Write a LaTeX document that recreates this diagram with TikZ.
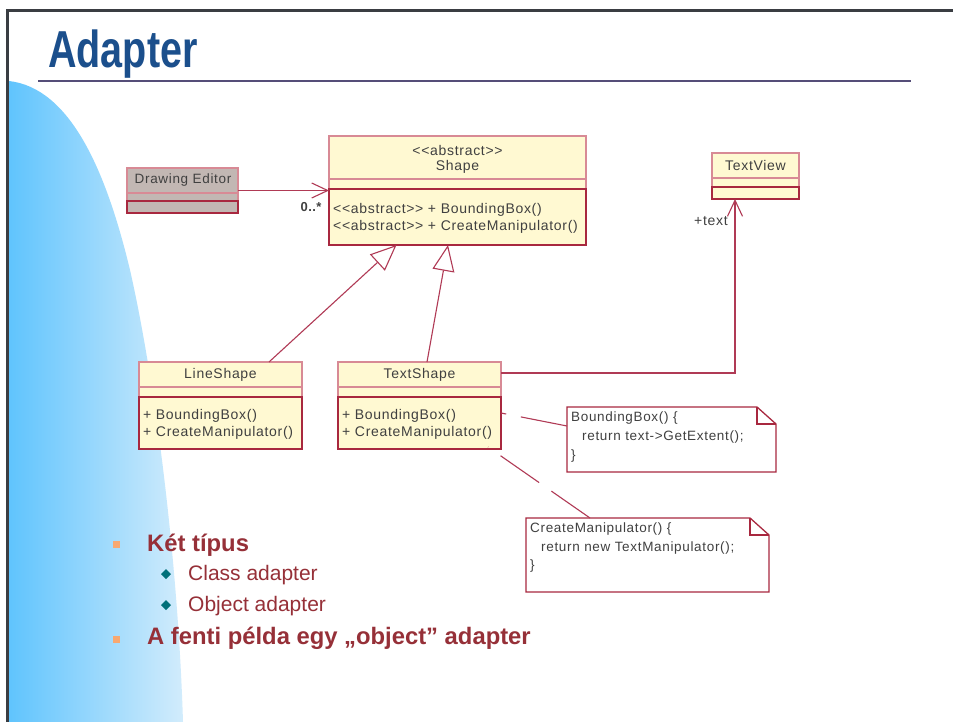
\documentclass[tikz,border=0pt]{standalone}
\usepackage{fontspec}
\setmainfont{Liberation Sans}
\newfontfamily\umlfont[LetterSpace=5]{Liberation Sans}
\newfontfamily\umlbold[LetterSpace=3]{Liberation Sans Bold}
\usetikzlibrary{calc,arrows.meta}

\definecolor{framegray}{HTML}{3A3D42}
\definecolor{titleblue}{HTML}{1B4F8C}
\definecolor{rulepurple}{HTML}{554E78}
\definecolor{skyA}{HTML}{60C4FD}
\definecolor{skyB}{HTML}{D2ECFC}
\definecolor{umlfill}{HTML}{FFF9D2}
\definecolor{editorfill}{HTML}{C2B7B3}
\definecolor{darkedge}{HTML}{A8283F}
\definecolor{lightedge}{HTML}{D88A95}
\definecolor{wire}{HTML}{B03A55}
\definecolor{umltext}{HTML}{404040}
\definecolor{bullettext}{HTML}{963038}
\definecolor{orangebullet}{HTML}{F8A870}
\definecolor{tealbullet}{HTML}{00707A}

\tikzset{
  umlbox/.style={rectangle, fill=umlfill, inner sep=0pt, outer sep=0pt, anchor=north west},
  hdr/.style={draw=lightedge, line width=1.2pt},
  body/.style={draw=darkedge, line width=1.5pt},
  umltxt/.style={text=umltext, inner sep=0pt, font=\umlfont\fontsize{14}{16}\selectfont},
  notetxt/.style={text=umltext, inner sep=0pt, anchor=west, font=\umlfont\fontsize{13.5}{15}\selectfont},
  notebox/.style={rectangle, inner sep=0pt, outer sep=0pt, anchor=north west},
  wireline/.style={draw=wire, line width=1.1pt},
  gen/.style={wireline, -{Triangle[length=26pt,width=22pt,fill=white,line width=1.1pt]}},
  assoc/.style={wireline, -{Straight Barb[length=16pt,width=15pt,line width=1.1pt]}},
  noteline/.style={wireline, dash pattern=on 47pt off 15pt},
  bigbold/.style={anchor=base west, inner sep=0pt, text=bullettext, font=\bfseries\fontsize{23.8}{28}\selectfont},
  bigreg/.style={anchor=base west, inner sep=0pt, text=bullettext, font=\fontsize{21}{25}\selectfont},
}

% a class box: header, attribute and operation compartments
\newcommand{\umlparts}[3]{%
  \draw[hdr] (#1.north west) rectangle ($(#1.north east)+(0,#3)$);
  \draw[hdr] ($(#1.north west)+(0,#2)$) -- ($(#1.north east)+(0,#2)$);
  \draw[body] ($(#1.north west)+(0,#3)$) rectangle (#1.south east);}

% a note outline with a folded corner
\newcommand{\noteoutline}[1]{%
  \draw[draw=darkedge, line width=1.3pt, fill=white]
    (#1.north west) -- ($(#1.north east)+(-19,0)$) -- ($(#1.north east)+(0,17)$)
    -- (#1.south east) -- (#1.south west) -- cycle;
  \draw[draw=darkedge, line width=1.3pt]
    ($(#1.north east)+(-19,0)$) |- ($(#1.north east)+(0,17)$);}

\begin{document}
\begin{tikzpicture}[x=1pt,y=-1pt]
\useasboundingbox (0,0) rectangle (953,722);
\fill[white] (0,0) rectangle (953,722);

% sky-blue side panel
\shade[left color=skyA, right color=skyB]
  (9,81) .. controls (70,88) and (106,170) .. (130,270)
  .. controls (155,380) and (178,560) .. (183,722)
  -- (9,722) -- cycle;

% slide frame
\draw[framegray, line width=3pt] (7.5,722) -- (7.5,10.5) -- (953,10.5);

% title and rule
\node[anchor=base west, inner sep=0pt, text=titleblue] (title) at (48,68)
  {\scalebox{0.76}[1]{\bfseries\fontsize{52}{60}\selectfont Adapter}};
\draw[rulepurple, line width=2pt] (38,81) -- (911,81);

% class boxes
\node[umlbox, fill=editorfill, minimum width=111pt, minimum height=45pt] (de) at (127,168) {};
\umlparts{de}{25}{33}
\node[umlbox, minimum width=257pt, minimum height=109pt] (shape) at (329,136) {};
\umlparts{shape}{43}{53}
\node[umlbox, minimum width=87pt, minimum height=46pt] (tv) at (712,153) {};
\umlparts{tv}{25}{34}
\node[umlbox, minimum width=163pt, minimum height=87pt] (ls) at (139,362) {};
\umlparts{ls}{25}{35}
\node[umlbox, minimum width=163pt, minimum height=87pt] (ts) at (338,362) {};
\umlparts{ts}{25}{35}

% class texts
\node[umltxt, font=\umlfont\fontsize{13.5}{16}\selectfont] (deName) at (183,180.5) {Drawing Editor};
\node[umltxt] (shStereo) at (457.5,150) {{<}{<}abstract{>}{>}};
\node[umltxt] (shName) at (457.5,167) {Shape};
\node[umltxt, anchor=west] (shOp1) at (333,210) {{<}{<}abstract{>}{>} + BoundingBox()};
\node[umltxt, anchor=west] (shOp2) at (333,227) {{<}{<}abstract{>}{>} + CreateManipulator()};
\node[umltxt] (tvName) at (755.5,165) {TextView};
\node[umltxt] (lsName) at (220.5,375) {LineShape};
\node[umltxt, anchor=west] (lsOp1) at (143,416) {+ BoundingBox()};
\node[umltxt, anchor=west] (lsOp2) at (143,433) {+ CreateManipulator()};
\node[umltxt] (tsName) at (419.5,375) {TextShape};
\node[umltxt, anchor=west] (tsOp1) at (342,416) {+ BoundingBox()};
\node[umltxt, anchor=west] (tsOp2) at (342,433) {+ CreateManipulator()};

% relations
\draw[assoc] (de.east) -- (de.east -| shape.west);
\node[inner sep=0pt, text=umltext, font=\umlbold\fontsize{13}{15}\selectfont] (mult) at (311,207) {0..*};
\draw[gen] ($(ls.north)+(48.5,0)$) -- ($(shape.south)+(-61,0)$);
\draw[gen] ($(ts.north)+(7.5,0)$) -- ($(shape.south)+(-9.5,0)$);
\draw[assoc] ($(ts.north east)+(0,11)$) -| ($(tv.south)+(-20.5,0)$);
\node[umltxt] (role) at (711,221) {+text};

% notes
\node[notebox, minimum width=209pt, minimum height=65pt] (n1) at (567,407) {};
\noteoutline{n1}
\node[notetxt] (n1a) at (571,418) {BoundingBox() \{};
\node[notetxt] (n1b) at (582,437) {return text->GetExtent();};
\node[notetxt] (n1c) at (571,456) {\}};
\node[notebox, minimum width=243pt, minimum height=74pt] (n2) at (526,518) {};
\noteoutline{n2}
\node[notetxt] (n2a) at (530,529) {CreateManipulator() \{};
\node[notetxt] (n2b) at (541,548) {return new TextManipulator();};
\node[notetxt] (n2c) at (530,566) {\}};
\draw[noteline] ($(n1.north west)+(0,19)$) -- ($(ts.north east)+(0,51)$);
\draw[noteline] ($(n2.north west)+(64,0)$) -- ($(ts.south east)+(-13,-2)$);

% bullet list
\fill[orangebullet] (112.5,540.5) rectangle (119.5,547.5);
\node[bigbold] (b1) at (147,551) {Két típus};
\fill[tealbullet] (166,569) -- (171,574) -- (166,579) -- (161,574) -- cycle;
\node[bigreg] (b1a) at (188,580) {Class adapter};
\fill[tealbullet] (166,600) -- (171,605) -- (166,610) -- (161,605) -- cycle;
\node[bigreg] (b1b) at (188,611) {Object adapter};
\fill[orangebullet] (112.5,635.5) rectangle (119.5,642.5);
\node[bigbold] (b2) at (147,644) {A fenti példa egy „object” adapter};
\end{tikzpicture}
\end{document}
